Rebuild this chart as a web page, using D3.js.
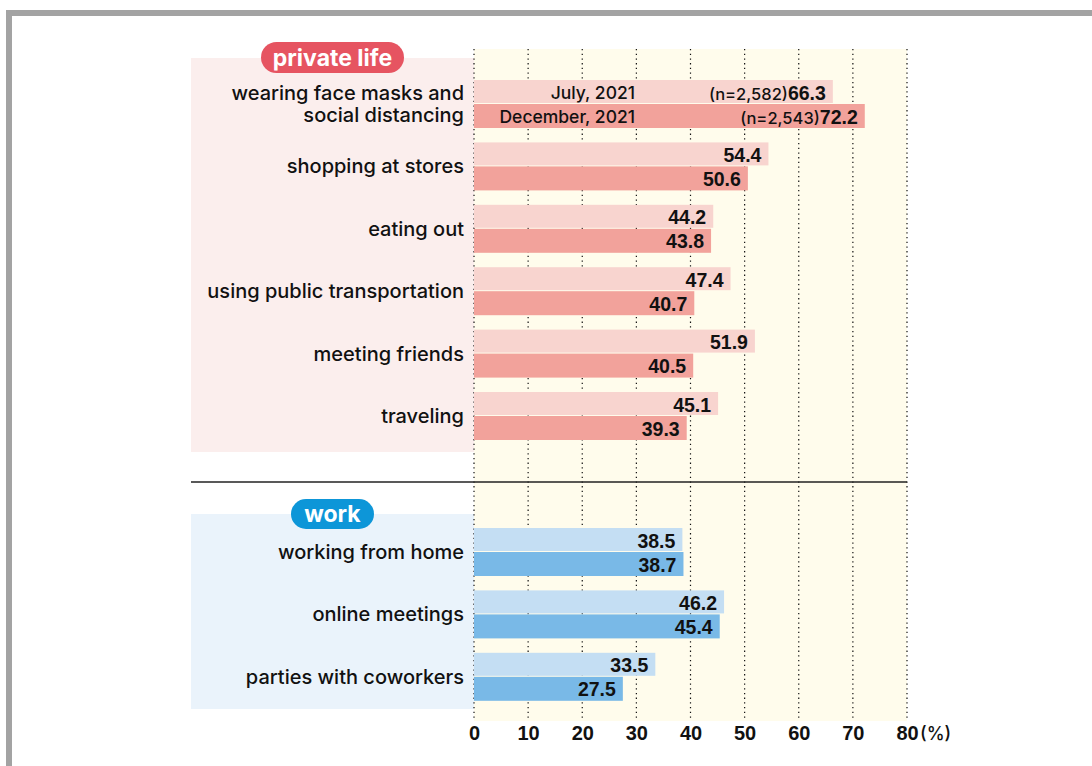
<!DOCTYPE html>
<html>
<head>
<meta charset="utf-8">
<script src="https://d3js.org/d3.v7.min.js"></script>
<style>
  body { margin: 0; background: #fff; }
  svg { display: block; font-family: "Liberation Sans", Arial, sans-serif; }
  .lbl { font-family: Inter, "Liberation Sans", sans-serif; font-weight: 500; }
</style>
</head>
<body>
<svg width="1092" height="766"></svg>
<script>
// data
const privateCats = ['wearing face masks and|social distancing', 'shopping at stores', 'eating out',
  'using public transportation', 'meeting friends', 'traveling'];
const privateJuly = [66.3, 54.4, 44.2, 47.4, 51.9, 45.1];
const privateDec = [72.2, 50.6, 43.8, 40.7, 40.5, 39.3];

const workCats = ['working from home', 'online meetings', 'parties with coworkers'];
const workJuly = [38.5, 46.2, 33.5];
const workDec = [38.7, 45.4, 27.5];

const seriesNames = ['July, 2021', 'December, 2021'];
const sampleSizes = ['(n=2,582)', '(n=2,543)'];
const ticks = [0, 10, 20, 30, 40, 50, 60, 70, 80];

const svg = d3.select('svg');

// frame
svg.append('rect').attr('x', 6).attr('y', 10).attr('width', 1092).attr('height', 6).attr('fill', '#a3a3a3');
svg.append('rect').attr('x', 6).attr('y', 10).attr('width', 6).attr('height', 766).attr('fill', '#a3a3a3');

const x = d3.scaleLinear().domain([0, 80]).range([474, 907]);
const plotTop = 49, plotBottom = 721;

const step = 62.4, bandH = 48;
const pad = 1 - bandH / step;
const yPriv = d3.scaleBand().domain(privateCats)
  .range([80, 80 + privateCats.length * step - (step - bandH)]).paddingInner(pad).paddingOuter(0);
const yWork = d3.scaleBand().domain(workCats)
  .range([528, 528 + workCats.length * step - (step - bandH)]).paddingInner(pad).paddingOuter(0);
const ySub = d3.scaleBand().domain([0, 1]).range([0, bandH]);

// backgrounds
svg.append('rect').attr('x', x(0)).attr('y', plotTop).attr('width', x(80) - x(0))
  .attr('height', plotBottom - plotTop).attr('fill', '#fffcec');
svg.append('rect').attr('x', 191).attr('y', 58).attr('width', x(0) - 191).attr('height', 394).attr('fill', '#fbeeed');
svg.append('rect').attr('x', 191).attr('y', 514).attr('width', x(0) - 191).attr('height', 195).attr('fill', '#eaf3fb');

// grid
svg.append('g').selectAll('line').data(ticks).join('line')
  .attr('x1', d => x(d)).attr('x2', d => x(d))
  .attr('y1', plotTop).attr('y2', plotBottom)
  .attr('stroke', '#111').attr('stroke-width', 1.2).attr('stroke-dasharray', '1.3,3.4');

// divider
svg.append('line').attr('x1', 191).attr('x2', 907).attr('y1', 482).attr('y2', 482)
  .attr('stroke', '#222').attr('stroke-width', 1.5);

function drawGroup(cats, july, dec, y, colors) {
  const g = svg.append('g');
  const rows = cats.map((c, i) => ({ cat: c, vals: [july[i], dec[i]], i }));
  const row = g.selectAll('g.row').data(rows).join('g')
    .attr('transform', d => `translate(0,${y(d.cat)})`);

  row.selectAll('rect').data(d => d.vals.map((v, k) => ({ v, k, i: d.i }))).join('rect')
    .attr('x', x(0)).attr('y', d => ySub(d.k))
    .attr('width', d => x(d.v) - x(0))
    .attr('height', d => ySub.bandwidth() - (d.k === 0 ? 1 : 0))
    .attr('fill', d => colors[d.k]);

  const lbl = row.selectAll('text.val').data(d => d.vals.map((v, k) => ({ v, k, i: d.i }))).join('text')
    .attr('class', 'val')
    .attr('x', d => x(d.v) - 7).attr('y', d => ySub(d.k) + ySub.bandwidth() / 2 + 7.5)
    .attr('text-anchor', 'end').attr('font-size', 19.5).attr('fill', '#111');
  lbl.filter(d => d.i === 0 && cats === privateCats).append('tspan')
    .attr('class', 'lbl').attr('font-size', 16.5).text(d => sampleSizes[d.k]);
  lbl.append('tspan').attr('font-weight', 'bold').text(d => d.v.toFixed(1));

  // category labels (one text per line)
  row.each(function (d) {
    const parts = d.cat.split('|');
    d3.select(this).selectAll('text.cat').data(parts).join('text')
      .attr('class', 'cat lbl')
      .attr('x', 464).attr('text-anchor', 'end').attr('font-size', 20).attr('fill', '#111')
      .attr('y', (p, j) => bandH / 2 + 7 + (j - (parts.length - 1) / 2) * 22)
      .text(p => p);
  });
  return g;
}

drawGroup(privateCats, privateJuly, privateDec, yPriv, ['#f8d4cf', '#f2a29b']);
drawGroup(workCats, workJuly, workDec, yWork, ['#c4def3', '#79b9e7']);

// series names inside first bars
svg.append('g').selectAll('text').data(seriesNames).join('text')
  .attr('class', 'lbl')
  .attr('x', 635).attr('y', (d, k) => yPriv(privateCats[0]) + ySub(k) + ySub.bandwidth() / 2 + 6.5)
  .attr('text-anchor', 'end').attr('font-size', 17.5).attr('fill', '#111').text(d => d);

// pills
function pill(label, cx, cy, w, h, color) {
  svg.append('rect').attr('x', cx - w / 2).attr('y', cy - h / 2).attr('width', w).attr('height', h)
    .attr('rx', h / 2).attr('fill', color);
  svg.append('text').attr('x', cx).attr('y', cy + 8).attr('text-anchor', 'middle')
    .attr('font-family', 'Inter, sans-serif')
    .attr('font-size', 23).attr('font-weight', 'bold').attr('fill', '#fff').text(label);
}
pill('private life', 332.5, 57.5, 143, 31, '#e65461');
pill('work', 332.5, 514, 83, 30, '#0d96d8');

// x axis labels
const axis = svg.append('g').attr('transform', `translate(0,${plotBottom})`)
  .call(d3.axisBottom(x).tickValues(ticks).tickSize(0).tickPadding(5).tickFormat(d3.format('d')));
axis.select('.domain').remove();
axis.selectAll('text').attr('font-size', 20).attr('font-weight', 'bold').attr('fill', '#111')
  .attr('font-family', '"Liberation Sans", Arial, sans-serif');
svg.append('text').attr('class', 'lbl').attr('x', x(80) + 13).attr('y', 740)
  .attr('font-size', 18).attr('fill', '#111').text('(%)');
</script>
</body>
</html>
